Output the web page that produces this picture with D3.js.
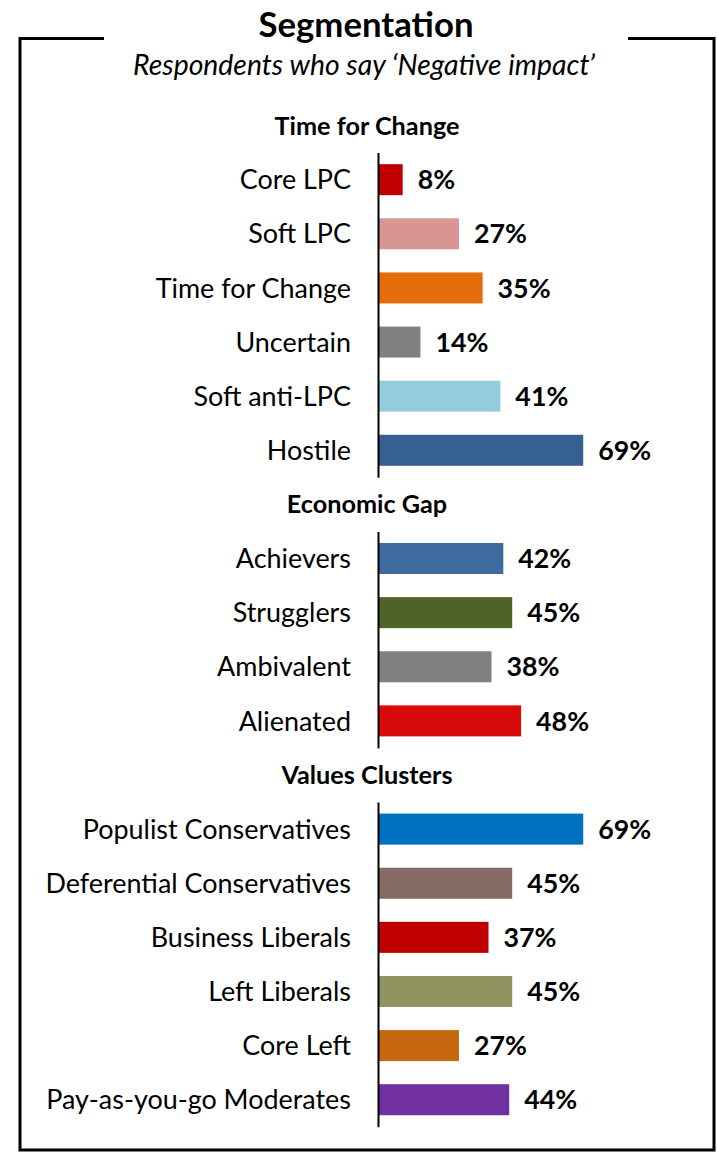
<!DOCTYPE html>
<html>
<head>
<meta charset="utf-8">
<script src="https://cdn.jsdelivr.net/npm/d3@7"></script>
<style>
  html, body { margin: 0; padding: 0; background: #fff; }
  svg { display: block; }
</style>
</head>
<body>
<div id="chart"></div>
<script>
// ---------- DATA ----------
const title = "Segmentation";
const subtitle = "Respondents who say \u2018Negative impact\u2019";

const groupNames = ["Time for Change", "Economic Gap", "Values Clusters"];

const tfcCategories = ["Core LPC", "Soft LPC", "Time for Change", "Uncertain", "Soft anti-LPC", "Hostile"];
const tfcValues = [8, 27, 35, 14, 41, 69];
const tfcColors = ["#C00000", "#D99594", "#E46C0A", "#808080", "#93CDDD", "#376092"];

const gapCategories = ["Achievers", "Strugglers", "Ambivalent", "Alienated"];
const gapValues = [42, 45, 38, 48];
const gapColors = ["#3E6A9D", "#4F6228", "#808080", "#D90A0A"];

const valCategories = ["Populist Conservatives", "Deferential Conservatives", "Business Liberals", "Left Liberals", "Core Left", "Pay-as-you-go Moderates"];
const valValues = [69, 45, 37, 45, 27, 44];
const valColors = ["#0070C0", "#866A64", "#C00000", "#8F9460", "#C5680E", "#7030A0"];

// ---------- BUILD ROWS ----------
const groupData = [
  { name: groupNames[0], cats: tfcCategories, vals: tfcValues, cols: tfcColors },
  { name: groupNames[1], cats: gapCategories, vals: gapValues, cols: gapColors },
  { name: groupNames[2], cats: valCategories, vals: valValues, cols: valColors }
];
const rows = [];
groupData.forEach((g, gi) => {
  rows.push({ key: "h" + gi, type: "header", name: g.name, group: gi });
  g.cats.forEach((c, i) => rows.push({ key: "b" + gi + "_" + i, type: "bar", name: c, value: g.vals[i], color: g.cols[i], group: gi }));
});

// ---------- LAYOUT ----------
const W = 717, H = 1153;
const svg = d3.select("#chart").append("svg").attr("width", W).attr("height", H);

const FONT = "Lato, 'Open Sans', sans-serif";

const y = d3.scaleBand().domain(rows.map(r => r.key)).range([98.5, 98.5 + rows.length * 54.12]).padding(0);
const x = d3.scaleLinear().domain([0, 100]).range([379, 675]);
const barH = y.bandwidth() * 0.573;

// fit font-size of a text selection so a reference string has a target width
function fitSize(sel, refText, target) {
  const probe = svg.append("text").attr("font-family", sel.attr("font-family"))
    .attr("font-weight", sel.attr("font-weight") || "normal")
    .attr("font-style", sel.attr("font-style") || "normal")
    .attr("font-size", 100).text(refText);
  const w = probe.node().getComputedTextLength();
  probe.remove();
  return 100 * target / w;
}

// ---------- FRAME ----------
const frame = svg.append("g").attr("fill", "none").attr("stroke", "#000").attr("stroke-width", 3);
frame.append("path").attr("d", "M104,38.5 H20 V1150 H714 V38.5 H628");

// ---------- TITLE ----------
const t = svg.append("text").attr("x", 366).attr("y", 37).attr("text-anchor", "middle")
  .attr("font-family", FONT).attr("font-weight", "bold").text(title);
t.attr("font-size", fitSize(t, title, 215));

const st = svg.append("text").attr("x", 364).attr("y", 75).attr("text-anchor", "middle")
  .attr("font-family", FONT).attr("font-style", "italic").text(subtitle);
st.attr("font-size", fitSize(st, subtitle, 462));

// ---------- HEADERS ----------
const headers = svg.append("g").attr("font-family", FONT).attr("font-weight", "bold");
const hs = headers.selectAll("text").data(rows.filter(r => r.type === "header")).join("text")
  .attr("x", 367).attr("y", d => y(d.key) + y.bandwidth() / 2).attr("dy", "0.36em")
  .attr("text-anchor", "middle").attr("fill", "#000").text(d => d.name);
const hSize = fitSize(headers, "Time for Change", 185);
headers.attr("font-size", hSize);

// ---------- BARS ----------
const barRows = rows.filter(r => r.type === "bar");
svg.append("g").selectAll("rect").data(barRows).join("rect")
  .attr("x", x(0))
  .attr("y", d => y(d.key) + (y.bandwidth() - barH) / 2)
  .attr("width", d => x(d.value) - x(0))
  .attr("height", barH)
  .attr("fill", d => d.color);

// ---------- CATEGORY LABELS ----------
const cl = svg.append("g").attr("font-family", FONT);
cl.selectAll("text").data(barRows).join("text")
  .attr("x", 351).attr("y", d => y(d.key) + y.bandwidth() / 2).attr("dy", "0.36em")
  .attr("text-anchor", "end").attr("fill", "#000").text(d => d.name);
cl.attr("font-size", fitSize(cl, "Pay-as-you-go Moderates", 305));

// ---------- VALUE LABELS ----------
const vl = svg.append("g").attr("font-family", FONT).attr("font-weight", "bold");
vl.selectAll("text").data(barRows).join("text")
  .attr("x", d => x(d.value) + 15).attr("y", d => y(d.key) + y.bandwidth() / 2).attr("dy", "0.36em")
  .attr("text-anchor", "start").attr("fill", "#000").text(d => d.value + "%");
vl.attr("font-size", fitSize(vl, "69%", 53));

// ---------- AXIS LINES (one per group) ----------
groupData.forEach((g, gi) => {
  const keys = barRows.filter(r => r.group === gi).map(r => r.key);
  const sub = d3.scaleBand().domain(keys).range([y(keys[0]), y(keys[keys.length - 1]) + y.bandwidth()]);
  const ax = svg.append("g").attr("transform", `translate(${x(0) - 1},0)`)
    .call(d3.axisLeft(sub).tickSize(0).tickSizeOuter(0).tickFormat(""));
  ax.select(".domain").attr("stroke", "#000").attr("stroke-width", 2);
});
</script>
</body>
</html>
